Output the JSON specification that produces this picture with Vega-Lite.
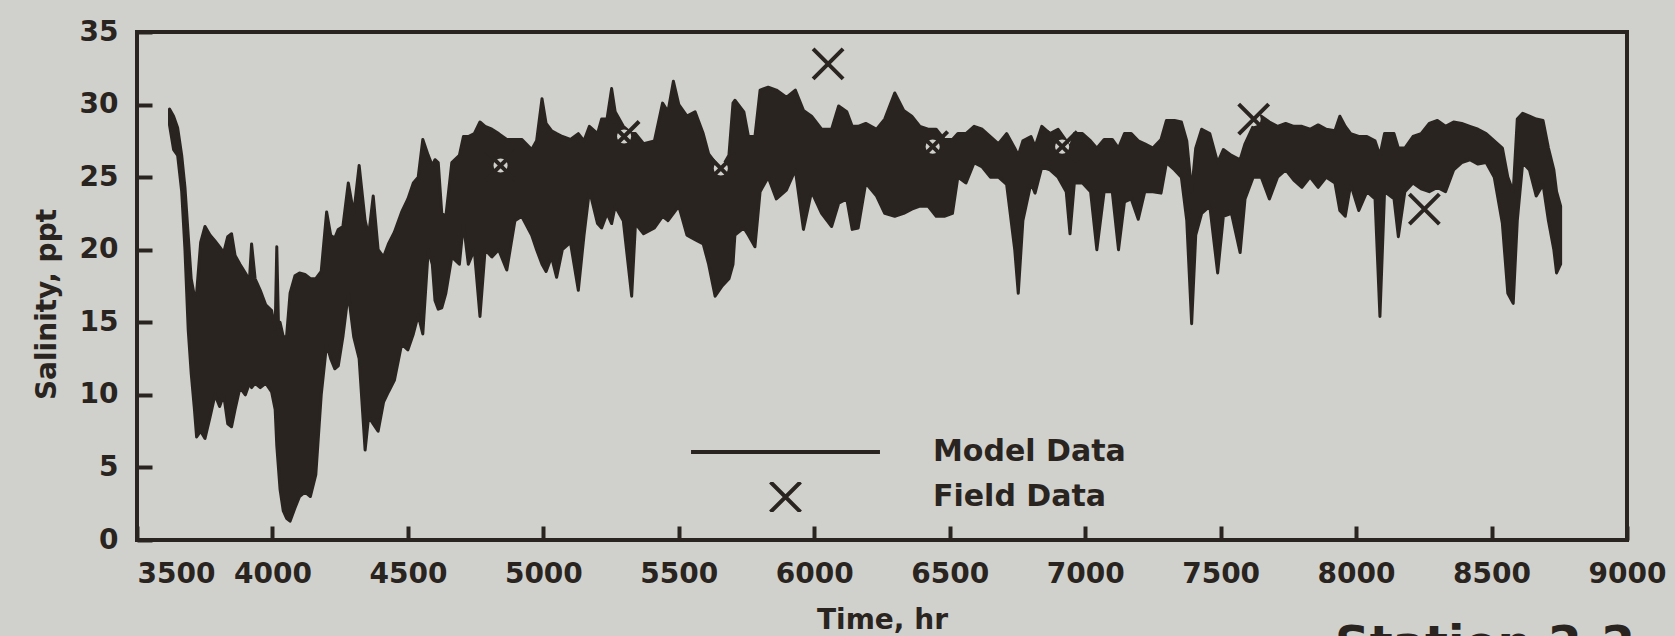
{
  "$schema": "https://vega.github.io/schema/vega-lite/v6.json",
  "width": 1490,
  "height": 508,
  "autosize": {"type": "none"},
  "padding": {"left": 137, "top": 32, "right": 48, "bottom": 96},
  "background": "#d0d1cc",
  "title": {
    "text": "Station 2-2",
    "orient": "bottom",
    "anchor": "end",
    "frame": "group",
    "offset": -12,
    "dx": 8,
    "fontSize": 48,
    "font": "DejaVu Sans",
    "fontWeight": "bold",
    "color": "#2a2421",
    "baseline": "top"
  },
  "config": {
    "view": {"stroke": "#2a2421", "strokeWidth": 4},
    "font": "DejaVu Sans",
    "axis": {
      "domain": false,
      "grid": false,
      "tickColor": "#2a2421",
      "tickWidth": 4,
      "labelColor": "#2a2421",
      "labelFont": "DejaVu Sans",
      "labelFontWeight": "bold",
      "labelFontSize": 28,
      "labelOverlap": false,
      "labelFlush": false,
      "titleColor": "#2a2421",
      "titleFont": "DejaVu Sans",
      "titleFontWeight": "bold",
      "titleFontSize": 28
    },
    "legend": {
      "orient": "none",
      "legendX": 552,
      "legendY": 405,
      "title": null,
      "padding": 0,
      "direction": "vertical",
      "symbolStrokeWidth": 4,
      "clipHeight": 30,
      "rowPadding": 15,
      "labelOffset": 51,
      "labelFontSize": 30,
      "labelFont": "DejaVu Sans",
      "labelFontWeight": "bold",
      "labelColor": "#2a2421",
      "labelLimit": 400
    }
  },
  "datasets": {
    "model": [
      {"t":3620,"lo":28.6,"hi":29.7},{"t":3635,"lo":26.9,"hi":29.2},{"t":3650,"lo":26.5,"hi":28.4},{"t":3665,"lo":24.0,"hi":26.5},
      {"t":3677,"lo":20.0,"hi":24.3},{"t":3689,"lo":14.5,"hi":21.0},{"t":3700,"lo":11.5,"hi":18.0},{"t":3712,"lo":9.0,"hi":16.8},
      {"t":3720,"lo":7.1,"hi":17.0},{"t":3735,"lo":7.5,"hi":20.5},{"t":3751,"lo":7.0,"hi":21.6},{"t":3770,"lo":8.5,"hi":21.0},
      {"t":3788,"lo":10.0,"hi":20.6},{"t":3805,"lo":9.2,"hi":20.2},{"t":3820,"lo":10.0,"hi":19.8},{"t":3835,"lo":8.0,"hi":20.9},
      {"t":3849,"lo":7.8,"hi":21.1},{"t":3862,"lo":9.0,"hi":19.6},{"t":3880,"lo":10.5,"hi":19.0},{"t":3900,"lo":10.0,"hi":18.4},
      {"t":3915,"lo":10.8,"hi":17.9},{"t":3923,"lo":10.5,"hi":20.4},{"t":3936,"lo":10.8,"hi":18.0},{"t":3955,"lo":10.5,"hi":17.2},
      {"t":3975,"lo":10.8,"hi":16.2},{"t":3997,"lo":10.2,"hi":15.8},{"t":4010,"lo":9.0,"hi":14.5},{"t":4016,"lo":6.5,"hi":20.2},
      {"t":4022,"lo":5.0,"hi":15.0},{"t":4028,"lo":3.5,"hi":15.0},{"t":4040,"lo":2.0,"hi":14.0},{"t":4052,"lo":1.5,"hi":14.0},
      {"t":4065,"lo":1.3,"hi":17.0},{"t":4083,"lo":2.2,"hi":18.2},{"t":4100,"lo":3.0,"hi":18.4},{"t":4120,"lo":3.3,"hi":18.3},
      {"t":4140,"lo":3.0,"hi":18.0},{"t":4160,"lo":4.5,"hi":18.0},{"t":4180,"lo":10.0,"hi":18.5},{"t":4200,"lo":13.5,"hi":22.6},
      {"t":4215,"lo":12.5,"hi":21.0},{"t":4230,"lo":11.8,"hi":20.8},{"t":4243,"lo":12.0,"hi":21.4},{"t":4260,"lo":14.0,"hi":21.6},
      {"t":4280,"lo":17.0,"hi":24.6},{"t":4300,"lo":14.0,"hi":22.5},{"t":4320,"lo":12.5,"hi":25.8},{"t":4342,"lo":6.2,"hi":22.0},
      {"t":4355,"lo":8.5,"hi":21.0},{"t":4372,"lo":8.0,"hi":23.7},{"t":4390,"lo":7.5,"hi":20.0},{"t":4410,"lo":9.5,"hi":19.5},
      {"t":4428,"lo":10.2,"hi":20.4},{"t":4450,"lo":11.0,"hi":21.2},{"t":4477,"lo":13.5,"hi":22.6},{"t":4500,"lo":13.1,"hi":23.5},
      {"t":4520,"lo":14.2,"hi":24.6},{"t":4538,"lo":15.5,"hi":25.0},{"t":4555,"lo":14.2,"hi":27.6},{"t":4575,"lo":20.0,"hi":26.5},
      {"t":4590,"lo":19.0,"hi":25.8},{"t":4600,"lo":16.5,"hi":26.2},{"t":4612,"lo":15.9,"hi":26.0},{"t":4625,"lo":16.0,"hi":22.5},
      {"t":4640,"lo":17.0,"hi":22.3},{"t":4662,"lo":19.5,"hi":26.0},{"t":4690,"lo":19.0,"hi":26.5},{"t":4705,"lo":21.8,"hi":27.8},
      {"t":4723,"lo":19.0,"hi":27.8},{"t":4745,"lo":20.0,"hi":28.0},{"t":4766,"lo":15.4,"hi":28.8},{"t":4785,"lo":20.0,"hi":28.5},
      {"t":4810,"lo":19.5,"hi":28.3},{"t":4835,"lo":20.0,"hi":28.0},{"t":4865,"lo":18.6,"hi":27.6},{"t":4895,"lo":22.0,"hi":27.6},
      {"t":4920,"lo":22.3,"hi":27.6},{"t":4957,"lo":21.0,"hi":26.9},{"t":4975,"lo":20.0,"hi":27.5},{"t":4995,"lo":19.0,"hi":30.4},
      {"t":5010,"lo":18.5,"hi":28.7},{"t":5030,"lo":19.5,"hi":28.2},{"t":5049,"lo":18.1,"hi":28.0},{"t":5070,"lo":20.0,"hi":27.8},
      {"t":5100,"lo":20.5,"hi":27.6},{"t":5129,"lo":17.2,"hi":28.0},{"t":5150,"lo":21.0,"hi":27.5},{"t":5170,"lo":24.1,"hi":28.5},
      {"t":5200,"lo":21.8,"hi":28.0},{"t":5215,"lo":21.5,"hi":29.0},{"t":5235,"lo":22.5,"hi":29.0},{"t":5252,"lo":21.8,"hi":31.1},
      {"t":5265,"lo":23.0,"hi":29.5},{"t":5295,"lo":22.0,"hi":28.5},{"t":5326,"lo":16.8,"hi":28.0},{"t":5340,"lo":21.8,"hi":28.0},
      {"t":5370,"lo":21.1,"hi":27.3},{"t":5410,"lo":21.5,"hi":27.5},{"t":5440,"lo":22.3,"hi":30.1},{"t":5460,"lo":22.0,"hi":29.5},
      {"t":5480,"lo":22.5,"hi":31.6},{"t":5500,"lo":23.0,"hi":30.0},{"t":5530,"lo":21.0,"hi":29.2},{"t":5560,"lo":20.7,"hi":29.5},
      {"t":5590,"lo":20.4,"hi":28.0},{"t":5610,"lo":19.0,"hi":26.6},{"t":5634,"lo":16.8,"hi":26.0},{"t":5660,"lo":17.5,"hi":25.7},
      {"t":5685,"lo":18.0,"hi":26.5},{"t":5700,"lo":19.0,"hi":30.1},{"t":5707,"lo":21.0,"hi":30.3},{"t":5740,"lo":21.5,"hi":29.5},
      {"t":5757,"lo":21.0,"hi":27.8},{"t":5781,"lo":20.2,"hi":27.8},{"t":5800,"lo":24.0,"hi":31.0},{"t":5830,"lo":25.0,"hi":31.2},
      {"t":5860,"lo":23.5,"hi":31.0},{"t":5897,"lo":24.1,"hi":30.5},{"t":5930,"lo":25.5,"hi":31.0},{"t":5960,"lo":21.4,"hi":29.6},
      {"t":5990,"lo":24.0,"hi":29.2},{"t":6027,"lo":22.5,"hi":28.3},{"t":6064,"lo":21.6,"hi":28.3},{"t":6090,"lo":23.2,"hi":29.9},
      {"t":6120,"lo":23.5,"hi":29.5},{"t":6140,"lo":21.4,"hi":28.5},{"t":6162,"lo":21.5,"hi":28.5},{"t":6190,"lo":24.6,"hi":28.7},
      {"t":6230,"lo":23.7,"hi":28.3},{"t":6260,"lo":22.5,"hi":29.0},{"t":6297,"lo":22.3,"hi":30.8},{"t":6330,"lo":22.5,"hi":29.6},
      {"t":6360,"lo":22.8,"hi":29.2},{"t":6390,"lo":23.0,"hi":28.5},{"t":6420,"lo":23.0,"hi":28.3},{"t":6450,"lo":22.3,"hi":28.3},
      {"t":6480,"lo":22.3,"hi":27.6},{"t":6510,"lo":22.5,"hi":27.6},{"t":6530,"lo":25.0,"hi":28.0},{"t":6560,"lo":24.6,"hi":28.0},
      {"t":6590,"lo":26.0,"hi":28.5},{"t":6620,"lo":25.7,"hi":28.3},{"t":6650,"lo":25.0,"hi":27.8},{"t":6680,"lo":25.0,"hi":27.3},
      {"t":6710,"lo":24.5,"hi":28.0},{"t":6740,"lo":20.0,"hi":27.0},{"t":6753,"lo":17.0,"hi":26.5},{"t":6770,"lo":22.0,"hi":27.5},
      {"t":6800,"lo":24.6,"hi":27.8},{"t":6815,"lo":23.9,"hi":27.1},{"t":6840,"lo":25.7,"hi":28.5},{"t":6870,"lo":25.5,"hi":28.0},
      {"t":6900,"lo":25.0,"hi":28.3},{"t":6930,"lo":24.0,"hi":27.5},{"t":6944,"lo":21.1,"hi":27.0},{"t":6960,"lo":24.6,"hi":28.0},
      {"t":6990,"lo":24.6,"hi":28.0},{"t":7020,"lo":24.0,"hi":27.5},{"t":7043,"lo":20.0,"hi":27.0},{"t":7070,"lo":24.0,"hi":27.6},
      {"t":7100,"lo":24.0,"hi":27.6},{"t":7123,"lo":20.0,"hi":27.0},{"t":7145,"lo":23.3,"hi":28.0},{"t":7170,"lo":23.5,"hi":28.0},
      {"t":7196,"lo":22.1,"hi":27.5},{"t":7220,"lo":24.0,"hi":27.3},{"t":7250,"lo":24.0,"hi":27.0},{"t":7280,"lo":23.9,"hi":27.6},
      {"t":7300,"lo":26.0,"hi":28.9},{"t":7330,"lo":25.5,"hi":28.9},{"t":7355,"lo":25.0,"hi":28.8},{"t":7375,"lo":22.0,"hi":27.5},
      {"t":7393,"lo":14.9,"hi":24.0},{"t":7408,"lo":21.0,"hi":27.0},{"t":7430,"lo":22.5,"hi":28.3},{"t":7460,"lo":23.0,"hi":28.0},
      {"t":7489,"lo":18.4,"hi":26.0},{"t":7510,"lo":22.3,"hi":26.9},{"t":7540,"lo":22.5,"hi":26.5},{"t":7572,"lo":19.8,"hi":26.2},
      {"t":7590,"lo":23.5,"hi":27.3},{"t":7620,"lo":25.0,"hi":28.5},{"t":7650,"lo":25.0,"hi":29.2},{"t":7680,"lo":23.5,"hi":28.8},
      {"t":7710,"lo":25.0,"hi":28.5},{"t":7740,"lo":25.5,"hi":28.7},{"t":7770,"lo":24.8,"hi":28.5},{"t":7800,"lo":24.3,"hi":28.5},
      {"t":7830,"lo":25.0,"hi":28.3},{"t":7860,"lo":24.3,"hi":28.6},{"t":7890,"lo":25.0,"hi":28.3},{"t":7922,"lo":24.6,"hi":28.2},
      {"t":7940,"lo":22.7,"hi":29.2},{"t":7960,"lo":22.3,"hi":28.5},{"t":7980,"lo":24.5,"hi":28.0},{"t":8010,"lo":22.7,"hi":27.8},
      {"t":8040,"lo":24.0,"hi":27.8},{"t":8070,"lo":23.5,"hi":27.5},{"t":8088,"lo":15.4,"hi":26.5},{"t":8105,"lo":24.0,"hi":28.0},
      {"t":8140,"lo":23.5,"hi":28.0},{"t":8156,"lo":20.9,"hi":27.0},{"t":8180,"lo":24.0,"hi":27.0},{"t":8210,"lo":24.6,"hi":27.8},
      {"t":8240,"lo":24.2,"hi":28.0},{"t":8270,"lo":24.0,"hi":28.7},{"t":8300,"lo":24.3,"hi":28.9},{"t":8330,"lo":24.0,"hi":28.5},
      {"t":8360,"lo":25.5,"hi":28.8},{"t":8390,"lo":26.0,"hi":28.7},{"t":8420,"lo":26.2,"hi":28.5},{"t":8450,"lo":25.9,"hi":28.3},
      {"t":8480,"lo":26.0,"hi":28.0},{"t":8510,"lo":25.0,"hi":27.5},{"t":8540,"lo":21.8,"hi":27.0},{"t":8560,"lo":17.0,"hi":25.0},
      {"t":8580,"lo":16.3,"hi":24.0},{"t":8595,"lo":22.0,"hi":29.0},{"t":8615,"lo":26.0,"hi":29.4},{"t":8640,"lo":25.5,"hi":29.2},
      {"t":8665,"lo":23.7,"hi":29.0},{"t":8690,"lo":24.5,"hi":28.9},{"t":8710,"lo":22.0,"hi":27.0},{"t":8730,"lo":20.0,"hi":25.5},
      {"t":8740,"lo":18.4,"hi":24.0},{"t":8755,"lo":19.0,"hi":23.0}
    ],
    "field": [
      {"t":4842,"s":25.8,"series":"Field Data"},
      {"t":5298,"s":27.8,"series":"Field Data"},
      {"t":5655,"s":25.6,"series":"Field Data"},
      {"t":6051,"s":32.8,"series":"Field Data"},
      {"t":6437,"s":27.1,"series":"Field Data"},
      {"t":6915,"s":27.1,"series":"Field Data"},
      {"t":7622,"s":29.0,"series":"Field Data"},
      {"t":8252,"s":22.8,"series":"Field Data"}
    ]
  },
  "layer": [
    {
      "data": {"name": "model"},
      "mark": {"type": "area", "color": "#2a2421", "stroke": "#2a2421", "strokeWidth": 3, "strokeJoin": "round"},
      "encoding": {
        "x": {
          "field": "t", "type": "quantitative",
          "scale": {"domain": [3500, 9000], "nice": false},
          "axis": {
            "values": [3500, 4000, 4500, 5000, 5500, 6000, 6500, 7000, 7500, 8000, 8500, 9000],
            "format": "d",
            "tickSize": -14,
            "labelPadding": 34,
            "labelAlign": {"condition": {"test": "datum.value === 3500", "value": "left"}, "value": "center"},
            "title": "Time, hr",
            "titlePadding": 18
          }
        },
        "y": {
          "field": "hi", "type": "quantitative",
          "scale": {"domain": [0, 35], "nice": false},
          "axis": {
            "values": [0, 5, 10, 15, 20, 25, 30, 35],
            "tickSize": -15,
            "labelPadding": 34,
            "title": "Salinity, ppt",
            "titleX": -76,
            "titleY": 272,
            "titleAngle": -90,
            "titleBaseline": "bottom",
            "titleAlign": "center"
          }
        },
        "y2": {"field": "lo"}
      }
    },
    {
      "data": {"name": "field"},
      "mark": {"type": "point", "shape": "circle", "filled": true, "color": "#d0d1cc", "size": 200, "opacity": 1},
      "encoding": {
        "x": {"field": "t", "type": "quantitative"},
        "y": {"field": "s", "type": "quantitative"}
      }
    },
    {
      "data": {"name": "field"},
      "mark": {"type": "point", "filled": false, "strokeWidth": 4, "opacity": 1},
      "encoding": {
        "x": {"field": "t", "type": "quantitative"},
        "y": {"field": "s", "type": "quantitative"},
        "color": {
          "field": "series", "type": "nominal",
          "scale": {"domain": ["Model Data", "Field Data"], "range": ["#2a2421", "#2a2421"]},
          "legend": {"title": null}
        },
        "shape": {
          "field": "series", "type": "nominal",
          "scale": {"domain": ["Model Data", "Field Data"], "range": ["stroke", "M-1,-1L1,1M-1,1L1,-1"]},
          "legend": {"title": null}
        },
        "size": {
          "field": "series", "type": "nominal",
          "scale": {"type": "ordinal", "domain": ["Model Data", "Field Data"], "range": [35700, 900]},
          "legend": {"title": null}
        }
      }
    }
  ]
}
